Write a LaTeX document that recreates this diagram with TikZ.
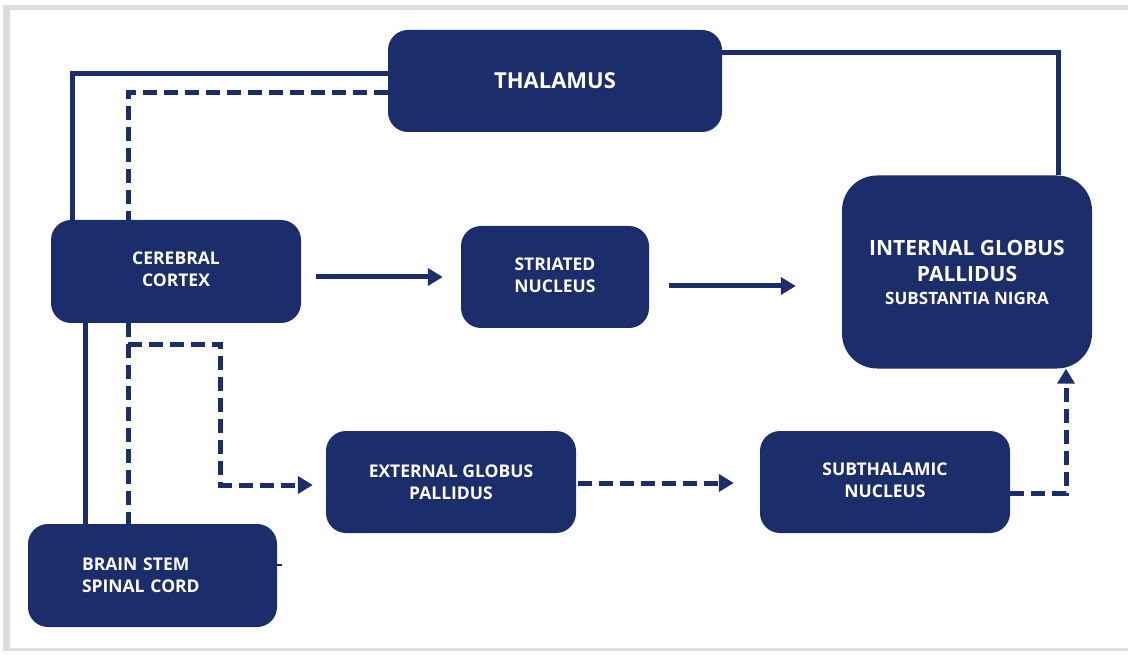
\documentclass[tikz,border=0pt]{standalone}
\usepackage{fontspec}
\setmainfont{Open Sans}
\usetikzlibrary{arrows.meta,calc}
\definecolor{navy}{RGB}{28,45,107}
\definecolor{framegray}{RGB}{221,221,221}
\begin{document}
\begin{tikzpicture}[x=1pt,y=-1pt,
  box/.style={fill=navy, rounded corners=20pt, text=white,
    font=\bfseries\fontsize{17.5}{22}\selectfont, align=center, inner sep=0pt},
  conn/.style={draw=navy, line width=5pt},
  dconn/.style={conn, dash pattern=on 14pt off 7pt},
  tip/.style={-{Triangle[length=15pt,width=17pt]}}]
\useasboundingbox (0,0) rectangle (1128,655);
% frame
\fill[framegray] (3,5) rectangle (1128,10);
\fill[framegray] (3,5) rectangle (10,651);
\fill[framegray] (3,648) rectangle (1128,651);
% boxes
\node[box, minimum width=334pt, minimum height=102pt,
  font=\bfseries\fontsize{22}{26}\selectfont] (thal) at (555,81) {THALAMUS};
\node[box, minimum width=250pt, minimum height=103pt] (cortex) at (176,271.5) {CEREBRAL\\CORTEX\\[-18pt]};
\node[box, minimum width=188pt, minimum height=102pt] (stri) at (555,277) {STRIATED\\NUCLEUS\\[-18pt]};
\node[box, rounded corners=35pt, minimum width=250pt, minimum height=193pt,
  font=\bfseries\fontsize{21}{26}\selectfont] (igp) at (967,272)
  {INTERNAL GLOBUS\\PALLIDUS\\[-3pt]{\fontsize{17}{20}\selectfont SUBSTANTIA NIGRA}};
\node[box, minimum width=250pt, minimum height=102pt] (egp) at (451,482) {EXTERNAL GLOBUS\\PALLIDUS};
\node[box, minimum width=250pt, minimum height=102pt] (sub) at (885,482) {SUBTHALAMIC\\NUCLEUS\\[-18pt]};
\node[box, minimum height=103pt, align=left, text width=141pt, inner xsep=54pt] (brain) at (152.5,575.5)
  {BRAIN STEM\\SPINAL CORD};
% connectors
\draw[conn] ([yshift=7pt]thal.west) -| ($(cortex.north)+(-104,0)$);
\draw[dconn] ([yshift=-12pt]thal.west) -| ($(cortex.north)+(-48,0)$);
\draw[conn] ([yshift=28pt]thal.east) -| ($(igp.north)+(91,0)$);
\draw[conn, tip] ($(cortex.east |- stri.west)+(15,0)$) -- ($(stri.west)+(-18,0)$);
\draw[conn, tip] ($(stri.east)+(20,9)$) -- ($(igp.west |- stri.east)+(-46,9)$);
\draw[conn] ($(cortex.south)+(-91,0)$) -- ($(brain.north)+(-67.5,0)$);
\draw[dconn] ($(cortex.south)+(-48,0)$) -- ($(brain.north)+(-24.5,0)$);
\coordinate (br) at ($(cortex.south)+(-48,21)$);
\draw[dconn, tip] (br) -| ($(egp.west)+(-105,3)$) -- ($(egp.west)+(-13,3)$);
\draw[dconn, tip] ($(egp.east)+(2,1)$) -- ($(sub.west)+(-26,1)$);
\draw[dconn, tip] ($(sub.east)+(0,11)$) -| ($(igp.south)+(99,0)$);
\draw[navy, line width=2pt] ($(brain.east)+(0,-10.5)$) -- ++(5,0);
\end{tikzpicture}
\end{document}
